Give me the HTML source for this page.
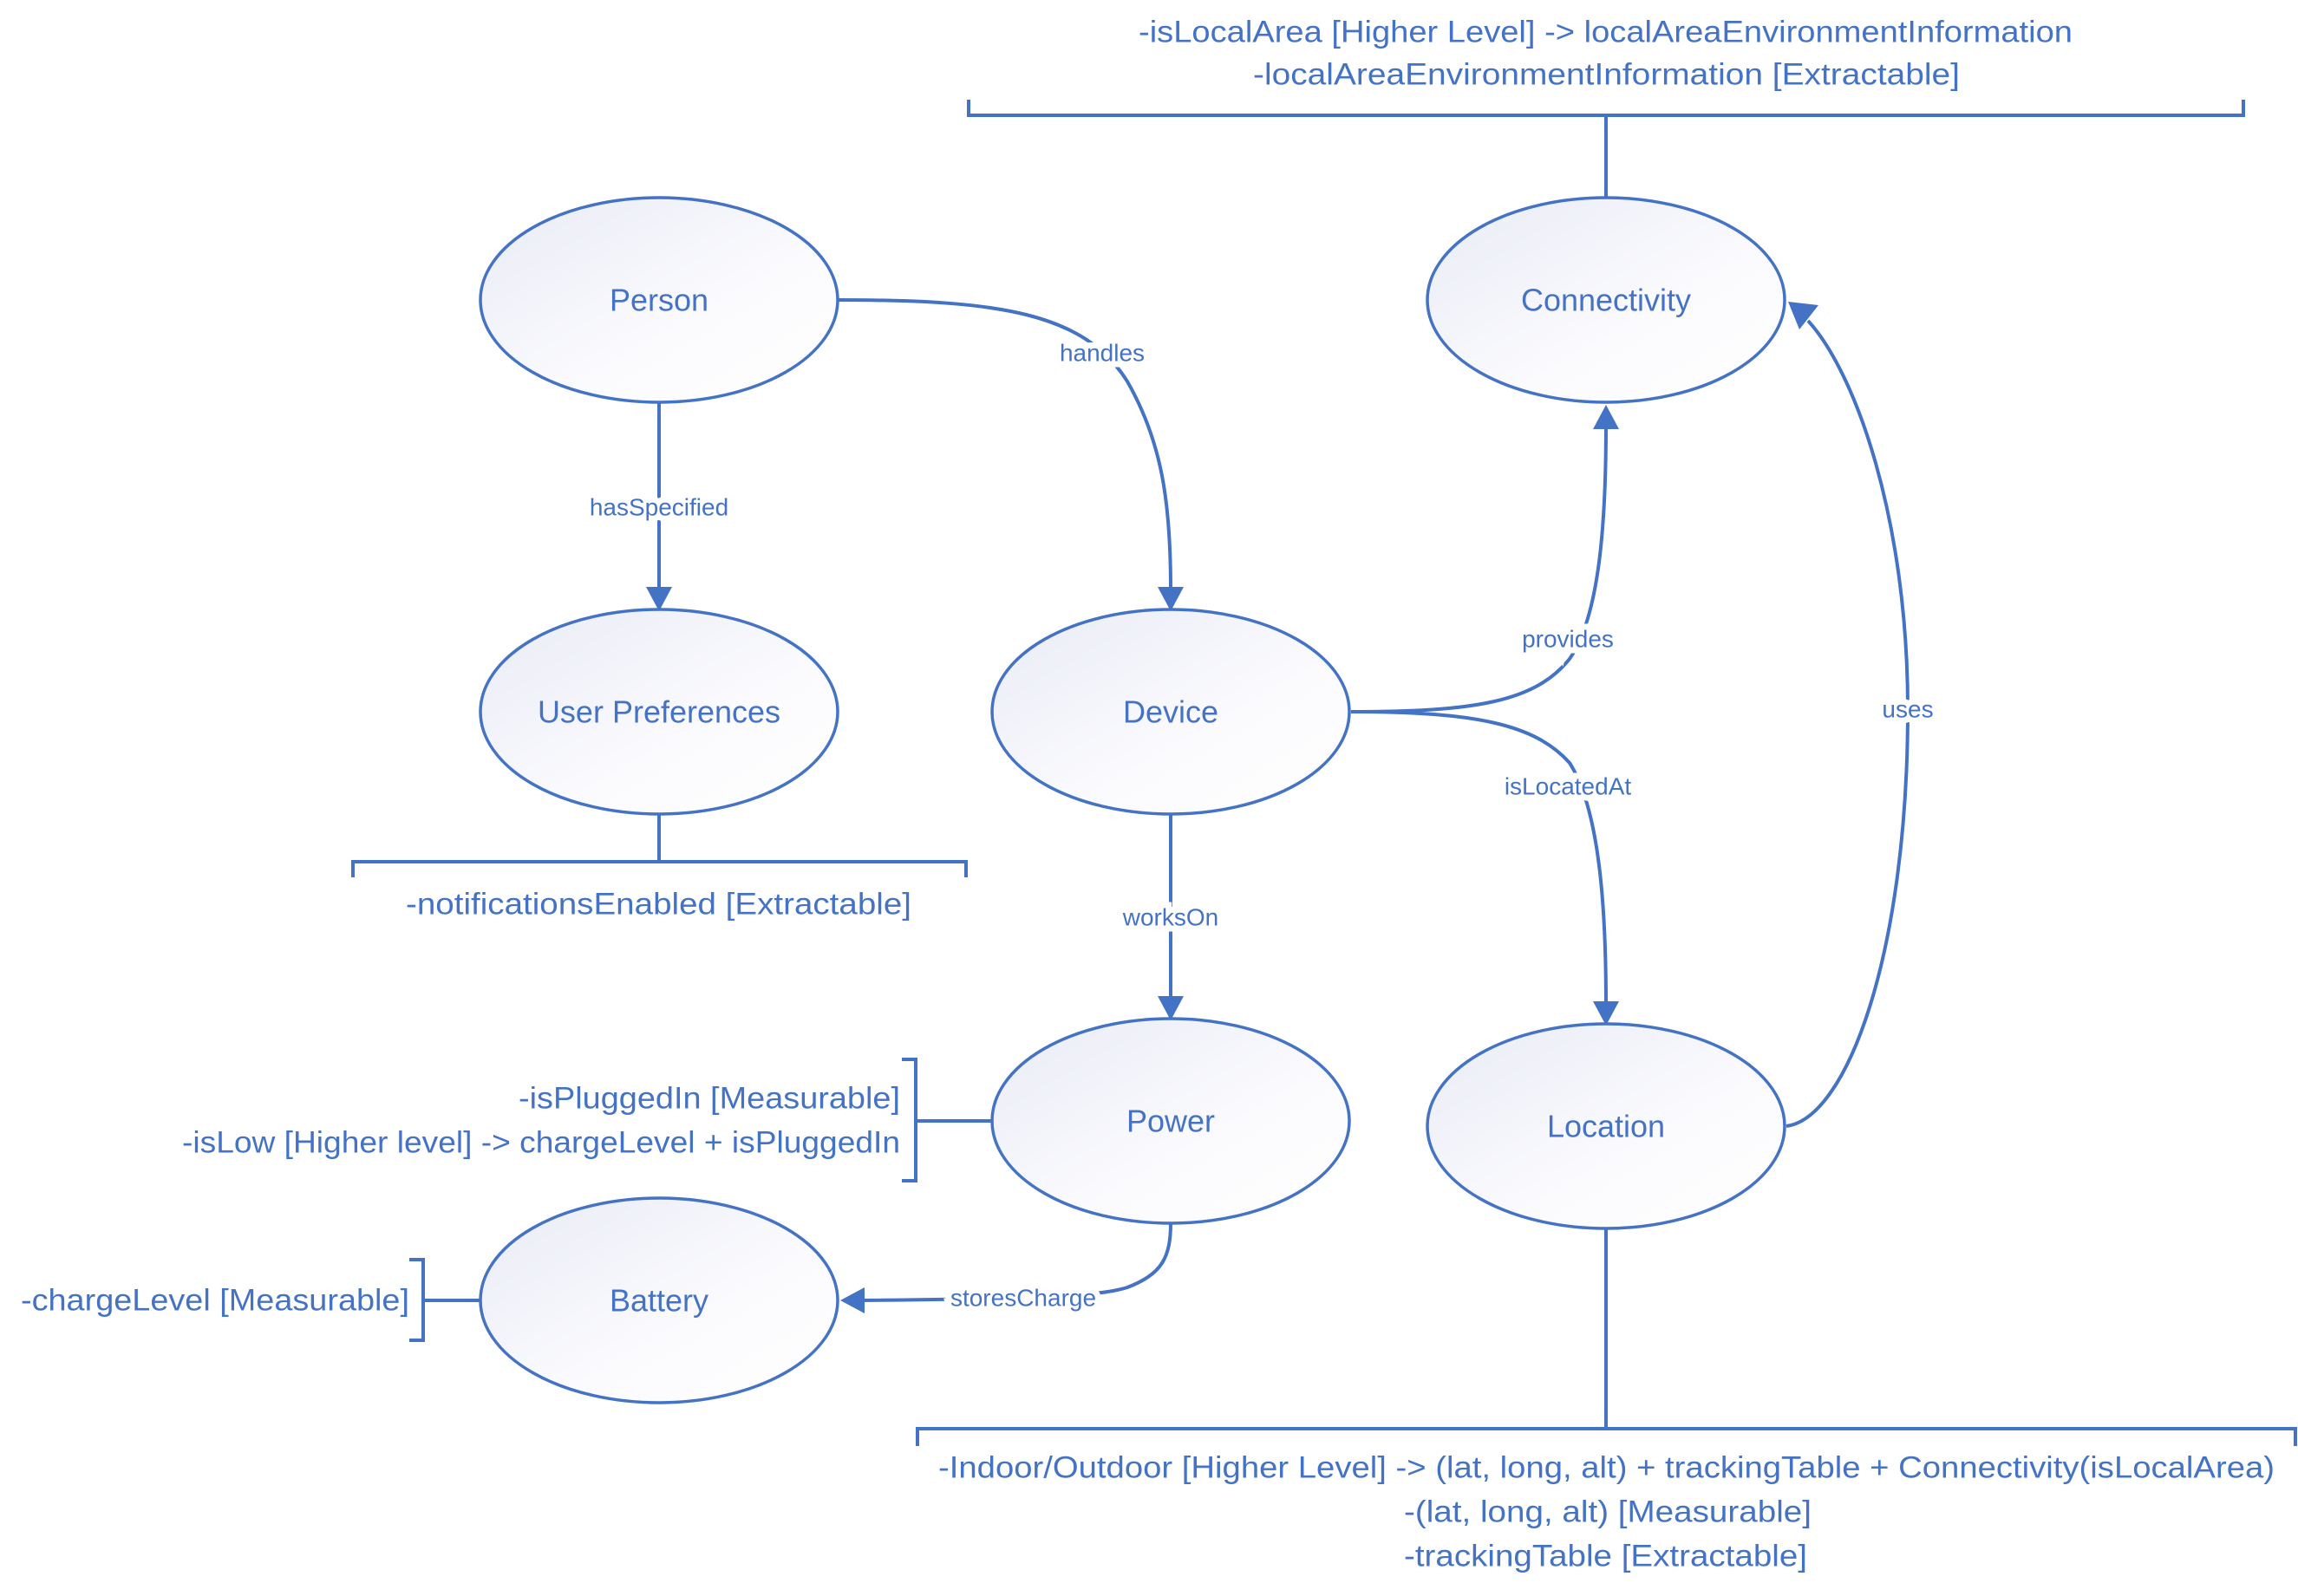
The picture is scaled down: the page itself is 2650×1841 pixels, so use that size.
<!DOCTYPE html>
<html><head><meta charset="utf-8"><style>
html,body{margin:0;padding:0;background:#fff;}
svg{display:block;}
text{font-family:"Liberation Sans",sans-serif;fill:#4472C4;}
.n{font-size:36px;text-anchor:middle;dominant-baseline:central;}
.e{font-size:28px;text-anchor:middle;dominant-baseline:central;stroke:#fff;stroke-width:14px;paint-order:stroke;}
.a{font-size:35px;dominant-baseline:central;}
</style></head><body>
<svg width="2650" height="1841" viewBox="0 0 2650 1841" xmlns="http://www.w3.org/2000/svg">
<defs>
<linearGradient id="g" x1="0" y1="0" x2="1" y2="1">
<stop offset="0" stop-color="#e9ebf5"/><stop offset="0.6" stop-color="#fbfbfe"/><stop offset="1" stop-color="#ffffff"/>
</linearGradient>
</defs>
<g fill="none" stroke="#4472C4" stroke-width="4">
<polyline points="1117,115 1117,133 2587,133 2587,115"/>
<line x1="1852" y1="133" x2="1852" y2="228"/>
<line x1="760" y1="939" x2="760" y2="994"/>
<polyline points="407,1012 407,994 1114,994 1114,1012"/>
<polyline points="1040,1222 1056,1222 1056,1362 1040,1362"/>
<line x1="1056" y1="1293" x2="1144" y2="1293"/>
<polyline points="472,1453 488,1453 488,1546 472,1546"/>
<line x1="488" y1="1500" x2="553" y2="1500"/>
<line x1="1852" y1="1417" x2="1852" y2="1648"/>
<polyline points="1058,1668 1058,1648 2647,1648 2647,1668"/>
<line x1="760" y1="464" x2="760" y2="680"/>
<path d="M967,346 C1150,346 1250,360 1300,440 C1340,510 1350,580 1350,680"/>
<line x1="1350" y1="939" x2="1350" y2="1152"/>
<path d="M1350,1411 C1350,1450 1340,1470 1300,1485 C1270,1495 1200,1498 995,1500"/>
<path d="M1558,821 C1700,821 1770,810 1810,760 C1845,710 1852,600 1852,490"/>
<path d="M1558,821 C1700,821 1770,835 1810,880 C1845,935 1852,1050 1852,1158"/>
<path d="M2060,1299 C2130,1290 2200,1100 2200,818 C2200,600 2140,430 2085,370"/>
</g>
<g fill="#4472C4">
<polygon points="745,677 775,677 760,705"/>
<polygon points="1335,677 1365,677 1350,705"/>
<polygon points="1335,1149 1365,1149 1350,1177"/>
<polygon points="1837,1155 1867,1155 1852,1183"/>
<polygon points="1837,495 1867,495 1852,467"/>
<polygon points="997,1485 997,1515 969,1500"/>
<polygon points="2062,348 2097,352 2075,380"/>
</g>
<g stroke="#4472C4" stroke-width="3.5" fill="url(#g)">
<ellipse cx="760" cy="346" rx="206" ry="118"/>
<ellipse cx="760" cy="821" rx="206" ry="118"/>
<ellipse cx="1350" cy="821" rx="206" ry="118"/>
<ellipse cx="1350" cy="1293" rx="206" ry="118"/>
<ellipse cx="760" cy="1500" rx="206" ry="118"/>
<ellipse cx="1852" cy="346" rx="206" ry="118"/>
<ellipse cx="1852" cy="1299" rx="206" ry="118"/>
</g>
<text class="n" x="760" y="346">Person</text>
<text class="n" x="760" y="821">User Preferences</text>
<text class="n" x="1350" y="821">Device</text>
<text class="n" x="1350" y="1293">Power</text>
<text class="n" x="760" y="1500">Battery</text>
<text class="n" x="1852" y="346">Connectivity</text>
<text class="n" x="1852" y="1299">Location</text>
<text class="e" x="760" y="585">hasSpecified</text>
<text class="e" x="1271" y="407">handles</text>
<text class="e" x="1350" y="1058">worksOn</text>
<text class="e" x="1180" y="1497">storesCharge</text>
<text class="e" x="1808" y="737">provides</text>
<text class="e" x="1808" y="907">isLocatedAt</text>
<text class="e" x="2200" y="818">uses</text>
<text class="a" x="1313" y="37" textLength="1077" lengthAdjust="spacingAndGlyphs">-isLocalArea [Higher Level] -&gt; localAreaEnvironmentInformation</text>
<text class="a" x="1445" y="86" textLength="815" lengthAdjust="spacingAndGlyphs">-localAreaEnvironmentInformation [Extractable]</text>
<text class="a" x="468" y="1043" textLength="583" lengthAdjust="spacingAndGlyphs">-notificationsEnabled [Extractable]</text>
<text class="a" x="598" y="1267" textLength="440" lengthAdjust="spacingAndGlyphs">-isPluggedIn [Measurable]</text>
<text class="a" x="210" y="1318" textLength="828" lengthAdjust="spacingAndGlyphs">-isLow [Higher level] -&gt; chargeLevel + isPluggedIn</text>
<text class="a" x="24" y="1500" textLength="448" lengthAdjust="spacingAndGlyphs">-chargeLevel [Measurable]</text>
<text class="a" x="1082" y="1693" textLength="1541" lengthAdjust="spacingAndGlyphs">-Indoor/Outdoor [Higher Level] -&gt; (lat, long, alt) + trackingTable + Connectivity(isLocalArea)</text>
<text class="a" x="1619" y="1744" textLength="470" lengthAdjust="spacingAndGlyphs">-(lat, long, alt) [Measurable]</text>
<text class="a" x="1619" y="1795" textLength="465" lengthAdjust="spacingAndGlyphs">-trackingTable [Extractable]</text>
</svg>
</body></html>
